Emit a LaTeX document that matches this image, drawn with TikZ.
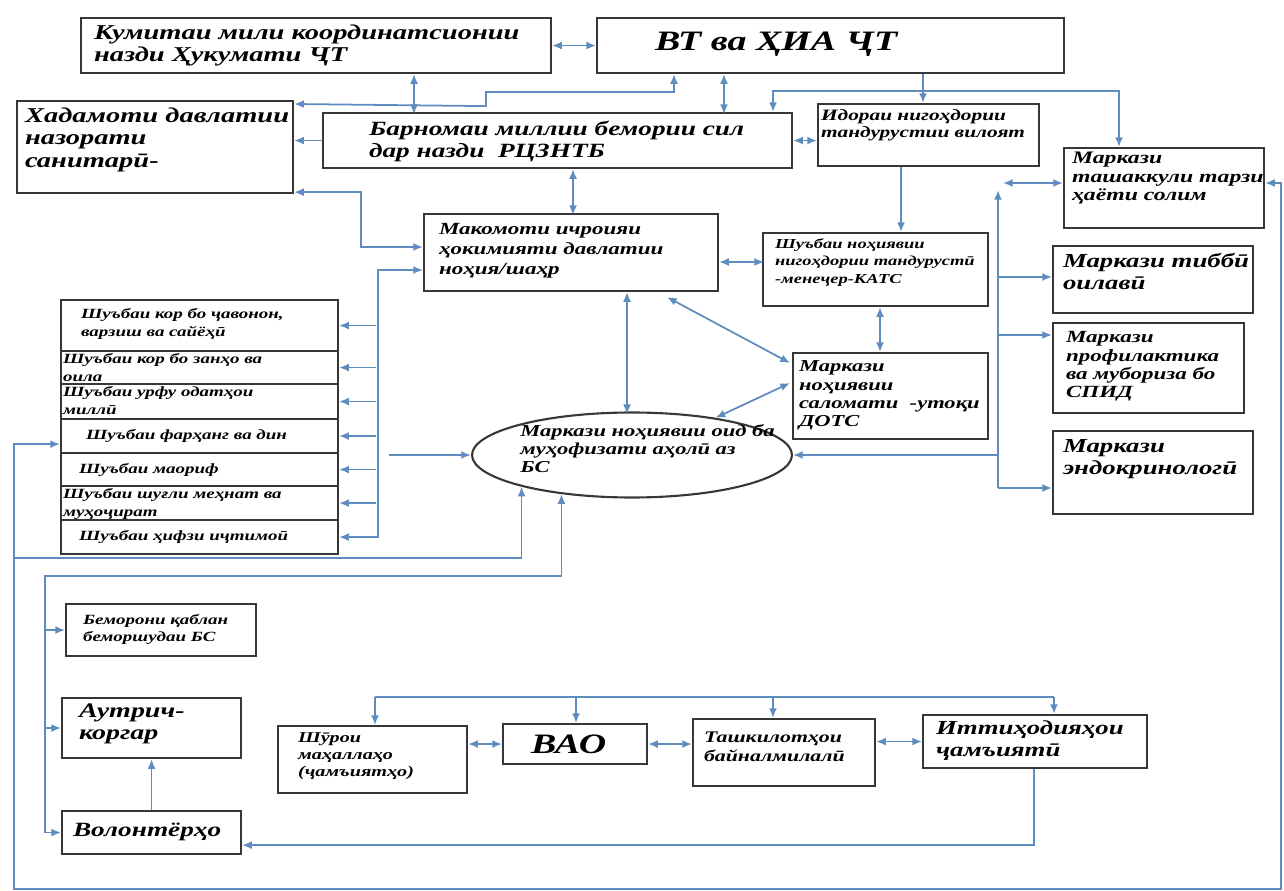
\documentclass[tikz,border=0pt]{standalone}
\usepackage{fontspec}
\setmainfont{Liberation Serif}[FakeStretch=1.35]
\usetikzlibrary{arrows.meta,shapes.geometric,calc}

\definecolor{boxc}{RGB}{55,55,55}
\definecolor{linec}{RGB}{95,140,190}
\newdimen\upx \upx=0.02cm
\newcommand\fz[2]{\fontsize{#1}{#2}\selectfont\bfseries\itshape}
\newcommand\pbx[5]{\parbox[t][#2\upx][t]{#1\upx}{\vspace*{#4\upx}\hspace*{#3\upx}\begin{tabular}[t]{@{}l@{}}#5\end{tabular}}}

\begin{document}
\begin{tikzpicture}[x=0.02cm, y=-0.02cm,
	blk/.style={draw=boxc, line width=1.2pt, inner sep=0pt, anchor=north west},
	cn/.style={draw=linec, line width=1pt},
	ar/.style={cn, -{Latex[length=5.5pt,width=4.5pt]}},
	dar/.style={cn, {Latex[length=5.5pt,width=4.5pt]}-{Latex[length=5.5pt,width=4.5pt]}}]
	\useasboundingbox (0,0) rectangle (1284,891);

	\node[blk, font=\fz{12}{12.5}] (kum) at (80,17) {\pbx{470}{55}{13}{6}{Кумитаи мили координатсионии\\назди Ҳукумати ҶТ}};
	\node[blk, font=\fz{16}{18}] (vt) at (596,17) {\pbx{467}{55}{58}{10}{ВТ ва ҲИА ҶТ}};
	\node[blk, font=\fz{12}{13}] (had) at (16,100) {\pbx{276}{92}{8}{5}{Хадамоти давлатии\\назорати\\санитарӣ-}};
	\node[blk, font=\fz{11.5}{12.5}] (bar) at (322,112) {\pbx{469}{55}{46}{7}{Барномаи миллии бемории сил\\дар назди \ РЦЗНТБ}};
	\node[blk, font=\fz{9}{10}] (ido) at (817,103) {\pbx{221}{62}{3}{4}{Идораи нигоҳдории\\тандурустии вилоят}};
	\node[blk, font=\fz{10}{10.5}] (tas) at (1063,147) {\pbx{200}{80}{8}{3}{Маркази\\ташаккули тарзи\\ҳаёти солим}};
	\node[blk, font=\fz{9.7}{11.3}] (mak) at (423,213) {\pbx{294}{77}{15}{7}{Макомоти ичроияи\\ҳокимияти давлатии\\ноҳия/шаҳр}};
	\node[blk, font=\fz{7.8}{10}] (shn) at (762,232) {\pbx{225}{73}{12}{3}{Шуъбаи ноҳиявии\\нигоҳдории тандурустӣ\\-менеҷер-КАТС}};
	\node[blk, font=\fz{9.5}{10.4}] (sal) at (792,352) {\pbx{195}{86}{6}{6}{Маркази\\ноҳиявии\\саломати \ -утоқи\\ДОТС}};
	\node[blk, font=\fz{11.3}{13}] (tib) at (1052,245) {\pbx{200}{67}{10}{5}{Маркази тиббӣ\\оилавӣ}};
	\node[blk, font=\fz{9.7}{10.4}] (pro) at (1052,322) {\pbx{191}{90}{13}{7}{Маркази\\профилактика\\ва мубориза бо\\СПИД}};
	\node[blk, font=\fz{11.3}{13}] (end) at (1052,430) {\pbx{200}{83}{10}{5}{Маркази\\эндокринологӣ}};

	% shuba list
	\node[blk, font=\fz{8}{9.7}] (r1) at (60,299) {\pbx{277}{51}{20}{7}{Шуъбаи кор бо ҷавонон,\\варзиш ва сайёҳӣ}};
	\node[blk, font=\fz{8}{9.7}] (r2) at (60,350) {\pbx{277}{33}{2}{1}{Шуъбаи кор бо занҳо ва\\оила}};
	\node[blk, font=\fz{8}{9.7}] (r3) at (60,383) {\pbx{277}{35}{2}{1}{Шуъбаи урфу одатҳои\\миллӣ}};
	\node[blk, font=\fz{8}{9.7}] (r4) at (60,418) {\pbx{277}{34}{25}{9}{Шуъбаи фарҳанг ва дин}};
	\node[blk, font=\fz{8}{9.7}] (r5) at (60,452) {\pbx{277}{33}{18}{9}{Шуъбаи маориф}};
	\node[blk, font=\fz{8}{9.7}] (r6) at (60,485) {\pbx{277}{34}{2}{1}{Шуъбаи шуғли меҳнат ва\\муҳоҷират}};
	\node[blk, font=\fz{8}{9.7}] (r7) at (60,519) {\pbx{277}{34}{18}{9}{Шуъбаи ҳифзи иҷтимоӣ}};

	\node[ellipse, draw=boxc, line width=1.2pt, minimum width=6.4cm, minimum height=1.7cm, inner sep=0pt] (ell) at (632,455) {};
	\node[anchor=north west, inner sep=0pt, align=left, font=\fz{9.5}{10.4}] (elltxt) at (520,424) {Маркази ноҳиявии оид ба\\муҳофизати аҳолӣ аз\\БС};

	\node[blk, font=\fz{8}{9.5}] (bem) at (65,603) {\pbx{190}{52}{17}{9}{Беморони қаблан\\беморшудаи БС}};
	\node[blk, font=\fz{11.8}{13}] (aut) at (61,697) {\pbx{179}{60}{17}{3}{Аутрич-\\коргар}};
	\node[blk, font=\fz{11.5}{13}] (vol) at (61,810) {\pbx{179}{43}{11}{9}{Волонтёрҳо}};
	\node[blk, font=\fz{8.5}{9.5}] (shu) at (277,725) {\pbx{189}{67}{20}{5}{Шӯрои\\маҳаллаҳо\\(ҷамъиятҳо)}};
	\node[blk, font=\fz{16}{18}] (bao) at (502,723) {\pbx{144}{40}{28}{7}{ВАО}};
	\node[blk, font=\fz{9.2}{10.5}] (tsk) at (692,718) {\pbx{182}{67}{11}{11}{Ташкилотҳои\\байналмилалӣ}};
	\node[blk, font=\fz{11.3}{12.5}] (itt) at (922,714) {\pbx{224}{53}{13}{4}{Иттиҳодияҳои\\ҷамъиятӣ}};

	% top links
	\draw[dar] (kum.east) -- (vt.west);
	\draw[dar] ($(kum.south west)+(334,0)$) -- ++(0,40);
	\draw[dar] ($(vt.south west)+(78,0)$) -- ++(0,18) -- ++(-188,0) -- ++(0,14) -- ($(had.north east)+(0,4)$);
	\draw[dar] ($(vt.south west)+(128,0)$) -- ++(0,40);
	\draw[ar] ($(vt.south west)+(327,0)$) -- ($(ido.north west)+(106,0)$);
	\draw[ar] ($(vt.south west)+(327,17)$) -| ($(bar.north west)+(451,0)$);
	\draw[ar] ($(vt.south west)+(327,17)$) -| ($(tas.north west)+(56,0)$);
	\draw[dar] (bar.east) -- (bar.east -| ido.west);
	\draw[ar] (bar.west) -- (bar.west -| had.east);
	\draw[dar] ($(bar.south west)+(251,0)$) -- ++(0,46);
	\draw[dar] ($(had.south east)+(0,-2)$) -- ++(67,0) |- ($(mak.north west)+(0,34)$);
	\draw[dar] ($(mak.north west)+(0,57)$) -- ++(-45,0) |- (r7.east);
	\foreach \r in {r1,r2,r3,r4,r5,r6}
		\draw[ar] ($(\r.east)+(37,0)$) -- (\r.east);
	\draw[ar] ($(ell.west)+(-82,0)$) -- (ell.west);

	% centre
	\draw[dar] ($(mak.north east)+(0,49)$) -- ++(45,0);
	\draw[ar] ($(ido.south west)+(84,0)$) -- ($(shn.north west)+(139,0)$);
	\draw[dar] ($(shn.south west)+(118,0)$) -- ($(sal.north west)+(88,0)$);
	\draw[dar] ($(mak.south west)+(204,0)$) -- ++(0,122);
	\draw[dar] ($(mak.south west)+(244,5)$) -- ($(sal.north west)+(-2,11)$);
	\draw[dar] (ell.24) -- ($(sal.north west)+(-2,31)$);

	% right bus
	\draw[dar] ($(tas.north west)+(-60,36)$) -- ++(60,0);
	\draw[cn, {Latex[length=5.5pt,width=4.5pt]}-] ($(tas.north west)+(-65,43)$) -- ($(end.north west)+(-54,58)$);
	\draw[ar] ($(tib.north west)+(-54,32)$) -- ++(54,0);
	\draw[ar] ($(pro.north west)+(-54,13)$) -- ++(54,0);
	\draw[ar] ($(end.north west)+(-54,58)$) -- ++(54,0);
	\draw[ar] ($(ell.east)+(206,0)$) -- (ell.east);

	% outer loops
	\draw[dar] (ell.196) -- ++(0,71) -| ($(r4.south west)+(-46,-10)$) -- ($(r4.south west)+(0,-10)$);
	\draw[ar] ($(r4.south west)+(-46,-10)$) -- ++(0,445) -| ($(tas.north east)+(16,36)$) -- ($(tas.north east)+(0,36)$);
	\draw[dar] (ell.209) -- ++(0,82) -| ($(vol.west)+(-16,0)$) -- (vol.west);
	\draw[ar] ($(bem.west)+(-20,0)$) -- (bem.west);
	\draw[ar] ($(aut.west)+(-16,0)$) -- (aut.west);
	\draw[ar] (vol.north) -- (aut.south);

	% bottom row
	\draw[dar] (shu.east |- bao.west) -- (bao.west);
	\draw[dar] (bao.east) -- (bao.east -| tsk.west);
	\draw[dar] (tsk.east |- itt.west) -- (itt.west);
	\draw[cn] ($(shu.north west)+(98,-28)$) -- ($(itt.north west)+(132,-17)$);
	\draw[ar] ($(shu.north west)+(98,-28)$) -- ++(0,28);
	\draw[ar] ($(bao.north west)+(74,-26)$) -- ++(0,26);
	\draw[ar] ($(tsk.north west)+(81,-21)$) -- ++(0,21);
	\draw[ar] ($(itt.north west)+(132,-17)$) -- ++(0,17);
	\draw[ar] ($(itt.south west)+(112,0)$) |- ($(vol.south east)+(0,-10)$);
\end{tikzpicture}
\end{document}
